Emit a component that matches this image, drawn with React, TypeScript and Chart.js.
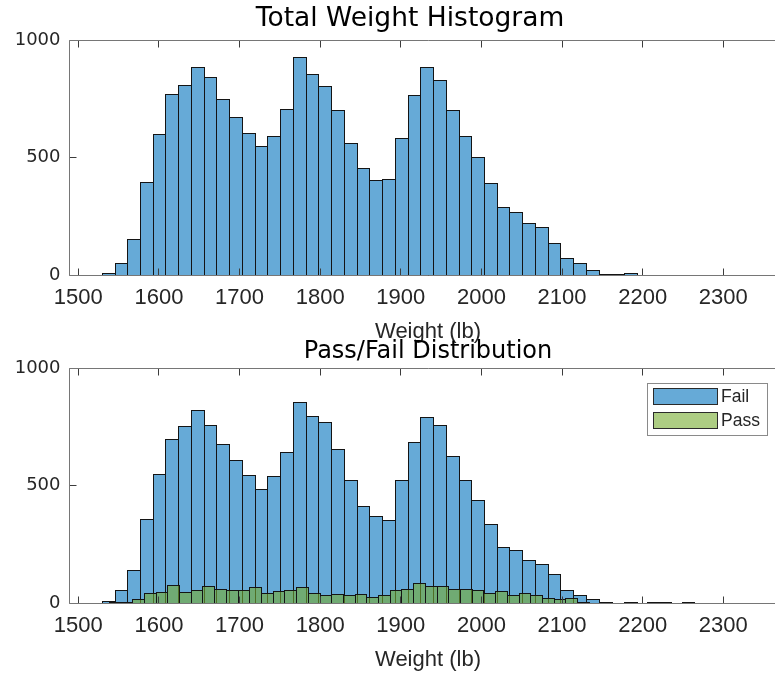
import React, { useEffect, useRef } from 'react';
import { Chart, registerables } from 'chart.js';

Chart.register(...registerables);

// ---- axis ticks ----
const xTicks = [1500, 1600, 1700, 1800, 1900, 2000, 2100, 2200, 2300];
const yTicks = [0, 500, 1000];
const weightMin = 1488.5;
const weightMax = 2379;

// ---- total weight histogram (same bins as the Fail series) ----
const totalBinStart = 1529.8;
const totalBinWidth = 15.8;
const totalCounts = [
  7, 51, 150, 392, 599, 768, 807, 885, 841, 747, 669, 604, 548, 591, 703, 927, 855, 802, 700, 559, 454,
  402, 406, 582, 764, 885, 828, 700, 591, 501, 389, 288, 267, 220, 203, 135, 72, 51, 18, 3, 1, 7,
];

// ---- pass / fail split ----
const failBinStart = 1529.8;
const failBinWidth = 15.8;
const failCounts = [
  8, 52, 139, 357, 547, 697, 749, 819, 756, 676, 608, 542, 481, 538, 642, 853, 792, 768, 654, 520, 411,
  366, 353, 521, 684, 788, 754, 625, 521, 435, 336, 236, 224, 181, 163, 120, 52, 34, 13, 3, 0, 3,
];

const passBinStart = 1538.5;
const passBinWidth = 14.52;
const passCounts = [
  1, 3, 13, 40, 43, 73, 43, 55, 72, 59, 54, 54, 64, 42, 51, 55, 68, 42, 30, 38, 30, 38, 25, 34, 55,
  59, 81, 71, 72, 59, 58, 55, 42, 51, 30, 42, 31, 21, 13, 21, 4, 0, 2, 0, 0, 0, 2, 2, 0, 1,
];

const failColor = 'rgba(0, 114, 189, 0.6)';
const passColor = 'rgba(119, 172, 48, 0.6)';
const textColor = '#262626';

const sansFont = "'Liberation Sans', Arial, sans-serif";
const wideFont = "'DejaVu Sans', Verdana, sans-serif";

function binPoints(start: number, width: number, counts: number[]) {
  return counts.map((c, i) => ({ x: start + (i + 0.5) * width, y: c }));
}

// Black 1px outline around every histogram bin, drawn right after its dataset
const histEdges = {
  id: 'histEdges',
  afterDatasetDraw(chart: any, args: any) {
    const { ctx } = chart;
    ctx.save();
    ctx.strokeStyle = '#141414';
    ctx.lineWidth = 1;
    for (const el of args.meta.data) {
      const { x, y, base, width } = el.getProps(['x', 'y', 'base', 'width'], true);
      if (Math.abs(base - y) < 0.05) continue;
      const l = Math.floor(x - width / 2) + 0.5;
      const r = Math.floor(x + width / 2) + 0.5;
      const b = Math.floor(base) + 0.5;
      const t = Math.min(Math.floor(y) + 0.5, b - 1);
      ctx.strokeRect(l, t, r - l, b - t);
    }
    ctx.restore();
  },
};

// Box frame with inward tick marks
const boxedAxes = {
  id: 'boxedAxes',
  afterDatasetsDraw(chart: any) {
    const { ctx, chartArea } = chart;
    const xs = chart.scales.x;
    const ys = chart.scales.y;
    const L = Math.floor(chartArea.left) + 0.5;
    const T = Math.floor(chartArea.top) + 0.5;
    const B = Math.floor(chartArea.bottom) + 0.5;
    const R = chartArea.right;
    const len = 7;
    ctx.save();
    ctx.lineWidth = 1;
    ctx.strokeStyle = '#3c3c3c';
    ctx.beginPath();
    for (const t of xs.ticks) {
      const px = Math.floor(xs.getPixelForValue(t.value)) + 0.5;
      ctx.moveTo(px, B);
      ctx.lineTo(px, B - len);
      ctx.moveTo(px, T);
      ctx.lineTo(px, T + len);
    }
    for (const t of ys.ticks) {
      const py = Math.floor(ys.getPixelForValue(t.value)) + 0.5;
      ctx.moveTo(L, py);
      ctx.lineTo(L + len, py);
    }
    ctx.stroke();
    ctx.strokeStyle = '#767676';
    ctx.beginPath();
    ctx.moveTo(R, T);
    ctx.lineTo(L, T);
    ctx.lineTo(L, B);
    ctx.lineTo(R, B);
    ctx.stroke();
    ctx.restore();
  },
};

// Framed legend in the upper right corner of the plot area
const cornerLegend = {
  id: 'cornerLegend',
  afterDraw(chart: any) {
    const { ctx, chartArea } = chart;
    const items = chart.data.datasets.map((ds: any) => ({ label: ds.label, fill: ds.backgroundColor }));
    ctx.save();
    ctx.font = `17.5px ${sansFont}`;
    const textW = Math.max(...items.map((it: any) => ctx.measureText(it.label).width));
    const padL = 6, swW = 65, swH = 17, gap = 3, padR = 7, padT = 4.5, padB = 6, pitch = 24.6;
    const w = padL + swW + gap + textW + padR;
    const h = padT + swH + pitch * (items.length - 1) + padB;
    const right = Math.round(chartArea.right - 20);
    const left = Math.round(right - w);
    const top = Math.round(chartArea.top + 15);
    ctx.fillStyle = '#ffffff';
    ctx.fillRect(left, top, w, h);
    ctx.strokeStyle = '#8a8a8a';
    ctx.lineWidth = 1;
    ctx.strokeRect(left + 0.5, top + 0.5, Math.round(w), Math.round(h));
    items.forEach((it: any, i: number) => {
      const sy = Math.round(top + padT + i * pitch);
      const sx = left + padL;
      ctx.fillStyle = it.fill;
      ctx.fillRect(sx, sy, swW, swH);
      ctx.strokeStyle = '#2a2a2a';
      ctx.strokeRect(sx + 0.5, sy + 0.5, swW - 1, swH - 1);
      ctx.fillStyle = textColor;
      ctx.textBaseline = 'middle';
      ctx.textAlign = 'left';
      ctx.fillText(it.label, sx + swW + gap, sy + swH / 2 + 0.5);
    });
    ctx.restore();
  },
};

function weightAxis(display: boolean) {
  const axis: any = {
    type: 'linear',
    position: 'bottom',
    display,
    offset: false,
    min: weightMin,
    max: weightMax,
    afterBuildTicks: (s: any) => {
      s.ticks = xTicks.map((v) => ({ value: v }));
    },
    grid: { display: false, drawTicks: false, offset: false },
    border: { display: false },
    ticks: {
      padding: 9.8,
      color: textColor,
      font: { family: sansFont, size: 22 },
      maxRotation: 0,
      autoSkip: false,
      callback: (v: any) => String(v),
    },
    title: {
      display: true,
      text: 'Weight (lb)',
      color: textColor,
      font: { family: sansFont, size: 22 },
      padding: { top: 0, bottom: 0 },
    },
  };
  if (display) {
    axis.afterFit = (s: any) => {
      s.height = 70;
    };
  }
  return axis;
}

function countAxis() {
  return {
    type: 'linear',
    min: 0,
    max: 1000,
    afterBuildTicks: (s: any) => {
      s.ticks = yTicks.map((v) => ({ value: v }));
    },
    afterFit: (s: any) => {
      s.width = 69;
    },
    grid: { display: false, drawTicks: false },
    border: { display: false },
    ticks: {
      padding: 8.5,
      color: textColor,
      font: { family: wideFont, size: 18 },
      callback: (v: any) => String(v),
    },
  };
}

// Empty strip on the right of the plot area (the axes run past the page edge)
function rightGutter() {
  return {
    type: 'linear',
    position: 'right',
    min: 0,
    max: 1,
    afterFit: (s: any) => {
      s.width = 33;
    },
    grid: { display: false, drawTicks: false },
    border: { display: false },
    ticks: { display: false },
  };
}

const barStyle = {
  borderWidth: 0,
  inflateAmount: 0,
  barPercentage: 1,
  categoryPercentage: 1,
  grouped: false,
};

function totalConfig(): any {
  return {
    type: 'bar',
    data: {
      datasets: [
        { label: 'Total', data: binPoints(totalBinStart, totalBinWidth, totalCounts), backgroundColor: failColor, xAxisID: 'x', yAxisID: 'y', ...barStyle },
      ],
    },
    options: {
      responsive: false,
      animation: false,
      devicePixelRatio: 1,
      events: [],
      layout: { padding: 0 },
      plugins: {
        legend: { display: false },
        tooltip: { enabled: false },
        title: {
          display: true,
          text: 'Total Weight Histogram',
          color: '#000000',
          font: { family: wideFont, size: 26.5, weight: 'normal' },
          padding: { top: 3.5, bottom: 4.7 },
        },
      },
      scales: { x: weightAxis(true), y: countAxis(), yR: rightGutter() },
    },
    plugins: [histEdges, boxedAxes],
  };
}

function splitConfig(): any {
  return {
    type: 'bar',
    data: {
      datasets: [
        { label: 'Fail', data: binPoints(failBinStart, failBinWidth, failCounts), backgroundColor: failColor, xAxisID: 'x', yAxisID: 'y', order: 1, ...barStyle },
        { label: 'Pass', data: binPoints(passBinStart, passBinWidth, passCounts), backgroundColor: passColor, xAxisID: 'x2', yAxisID: 'y', order: 0, ...barStyle },
      ],
    },
    options: {
      responsive: false,
      animation: false,
      devicePixelRatio: 1,
      events: [],
      layout: { padding: 0 },
      plugins: {
        legend: { display: false },
        tooltip: { enabled: false },
        title: {
          display: true,
          fullSize: false,
          text: 'Pass/Fail Distribution',
          color: '#000000',
          font: { family: wideFont, size: 24, weight: 'normal' },
          padding: { top: 2.6, bottom: 1.6 },
        },
      },
      scales: { x: weightAxis(true), x2: weightAxis(false), y: countAxis(), yR: rightGutter() },
    },
    plugins: [histEdges, boxedAxes, cornerLegend],
  };
}

export default function App() {
  const topRef = useRef<HTMLCanvasElement>(null);
  const bottomRef = useRef<HTMLCanvasElement>(null);

  useEffect(() => {
    const charts = [new Chart(topRef.current!, totalConfig()), new Chart(bottomRef.current!, splitConfig())];
    return () => charts.forEach((c) => c.destroy());
  }, []);

  return (
    <div
      style={{
        position: 'fixed',
        left: 0,
        top: 0,
        width: 775,
        height: 673,
        overflow: 'hidden',
        background: '#ffffff',
      }}
    >
      <canvas ref={topRef} width={820} height={345} style={{ position: 'absolute', left: 0, top: 0 }} />
      <canvas ref={bottomRef} width={820} height={338} style={{ position: 'absolute', left: 0, top: 335 }} />
    </div>
  );
}
